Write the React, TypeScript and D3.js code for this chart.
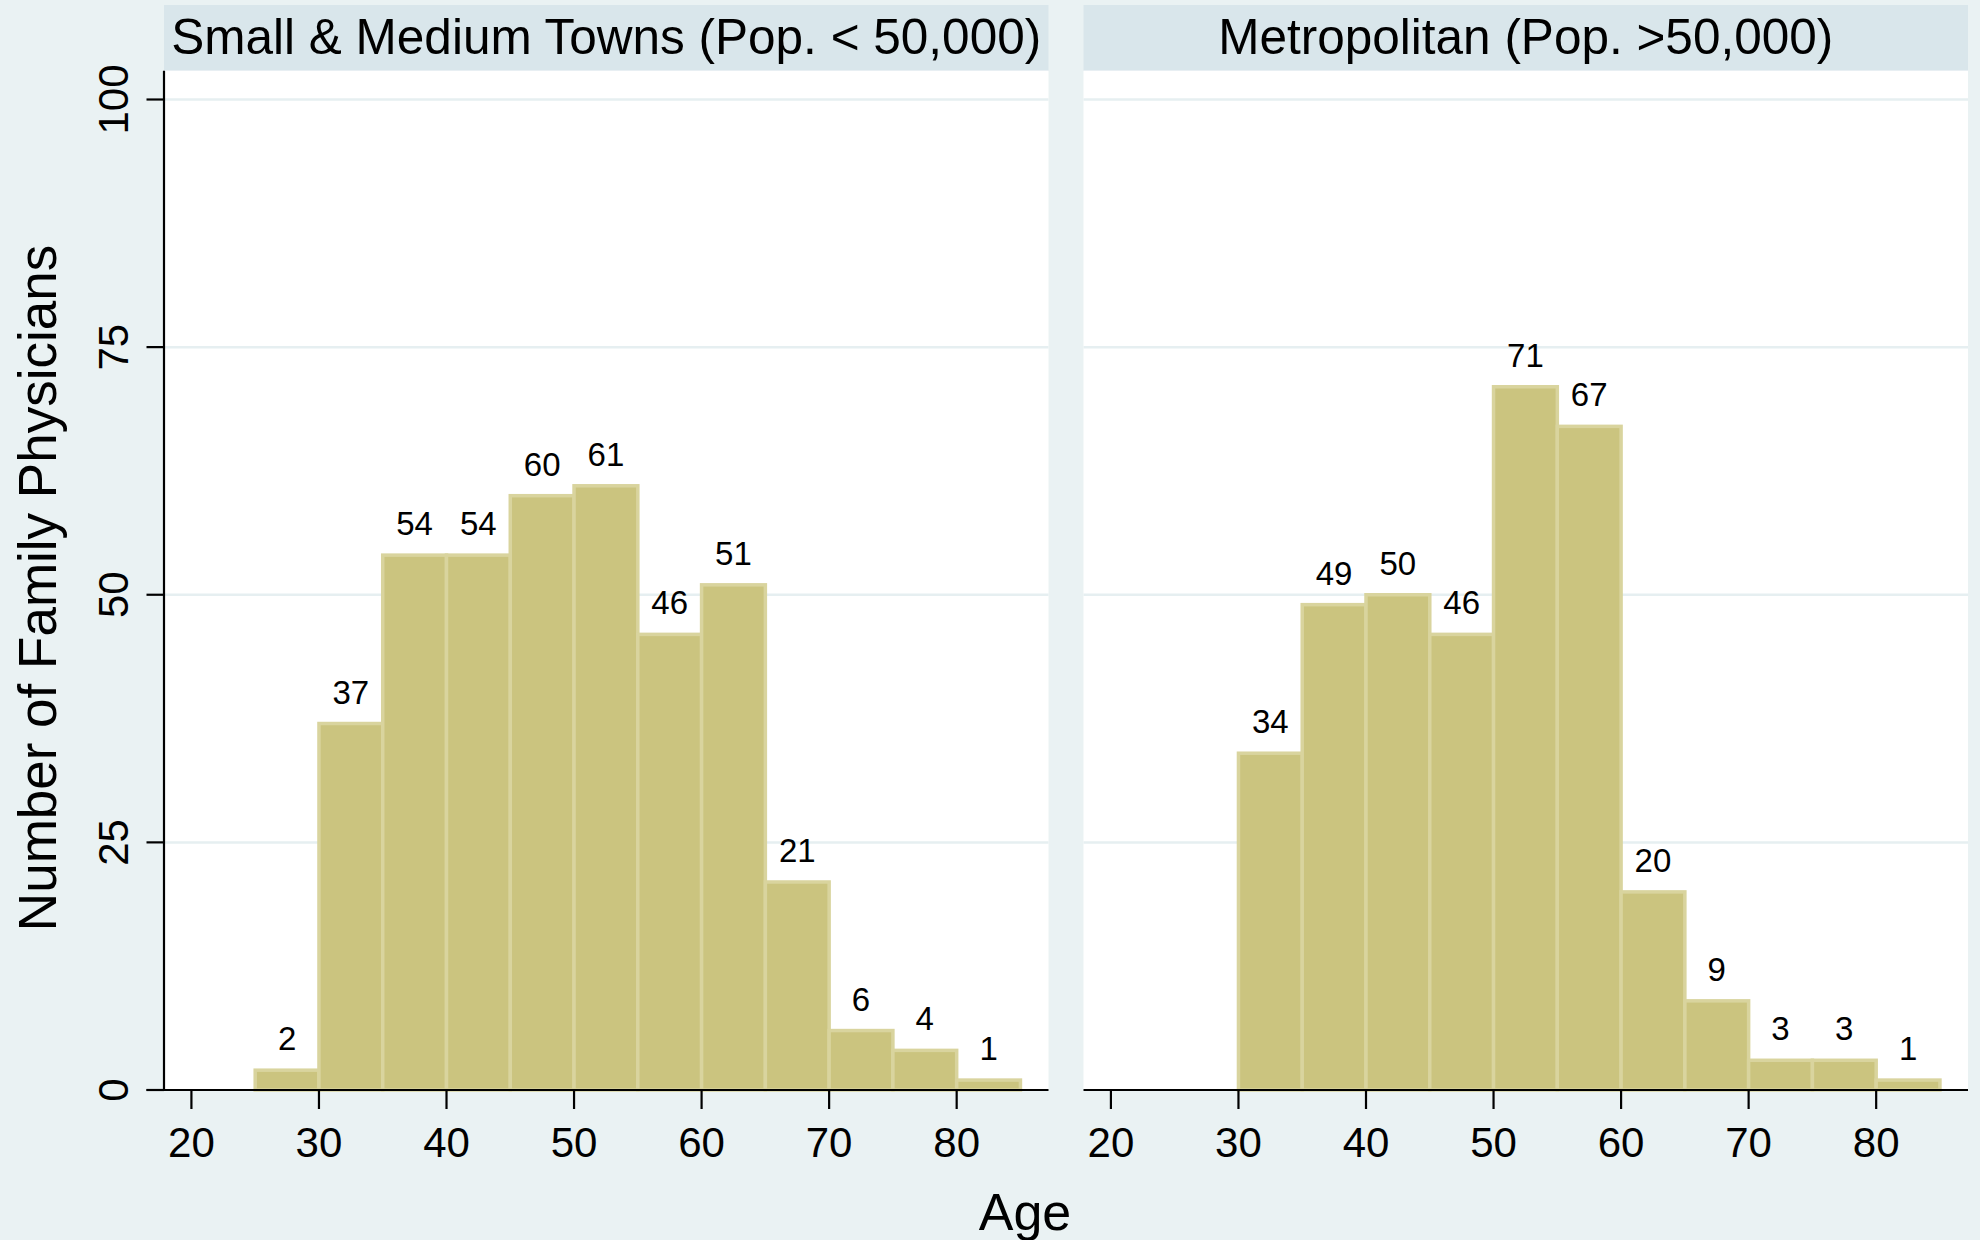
import React from 'react';
import * as d3 from 'd3';

const BIN_WIDTH = 5;
const smallBinStarts = [25, 30, 35, 40, 45, 50, 55, 60, 65, 70, 75, 80];
const smallCounts = [2, 37, 54, 54, 60, 61, 46, 51, 21, 6, 4, 1];
const metroBinStarts = [30, 35, 40, 45, 50, 55, 60, 65, 70, 75, 80];
const metroCounts = [34, 49, 50, 46, 71, 67, 20, 9, 3, 3, 1];
const xTicks = [20, 30, 40, 50, 60, 70, 80];
const yTicks = [0, 25, 50, 75, 100];
const panelTitles = ['Small & Medium Towns (Pop. < 50,000)', 'Metropolitan (Pop. >50,000)'];
const xTitle = 'Age';
const yTitle = 'Number of Family Physicians';

const W = 1980;
const H = 1240;
const BG = '#eaf2f3';
const HEADER = '#d9e6eb';
const FILL = '#cbc47f';
const OUTLINE = '#d9d49e';
const GRID = '#e6eff1';
const FONT = '"Liberation Sans", Arial, Helvetica, sans-serif';

const plotTop = 70.7;
const plotBottom = 1090;
const panelWidth = 884.5;
const panelLefts = [164, 1083.5];
const headerTop = 5;

const y = d3.scaleLinear().domain([0, 100]).range([plotBottom, 99.5]);

function Panel({ idx, starts, counts }: { idx: number; starts: number[]; counts: number[] }) {
  const left = panelLefts[idx];
  const x = d3.scaleLinear().domain([17.85, 87.2]).range([left, left + panelWidth]);
  return (
    <g>
      <rect x={left} y={headerTop} width={panelWidth} height={plotTop - headerTop} fill={HEADER} />
      <text x={left + panelWidth / 2} y={54} textAnchor="middle" fontSize={49.5} fontFamily={FONT} fill="#000">
        {panelTitles[idx]}
      </text>
      <rect x={left} y={plotTop} width={panelWidth} height={plotBottom - plotTop} fill="#fff" />
      {yTicks.filter(t => t > 0).map(t => (
        <line key={t} x1={left} x2={left + panelWidth} y1={y(t)} y2={y(t)} stroke={GRID} strokeWidth={2.5} />
      ))}
      {starts.map((s, i) => (
        <g key={s}>
          <rect
            x={x(s)}
            y={y(counts[i])}
            width={x(s + BIN_WIDTH) - x(s)}
            height={y(0) - y(counts[i])}
            fill={FILL}
            stroke={OUTLINE}
            strokeWidth={3.5}
          />
        </g>
      ))}
      {starts.map((s, i) => (
        <text
          key={'l' + s}
          x={x(s + BIN_WIDTH / 2)}
          y={y(counts[i]) - 20}
          textAnchor="middle"
          fontSize={33}
          fontFamily={FONT}
          fill="#000"
        >
          {counts[i]}
        </text>
      ))}
      <line x1={idx === 0 ? 146.5 : left} x2={left + panelWidth} y1={plotBottom} y2={plotBottom} stroke="#000" strokeWidth={2.2} />
      {xTicks.map(t => (
        <g key={'t' + t}>
          <line x1={x(t)} x2={x(t)} y1={plotBottom} y2={1109} stroke="#000" strokeWidth={2.2} />
          <text x={x(t)} y={1157} textAnchor="middle" fontSize={42} fontFamily={FONT} fill="#000">
            {t}
          </text>
        </g>
      ))}
      {idx === 0 && (
        <g>
          <line x1={left} x2={left} y1={plotTop} y2={plotBottom} stroke="#000" strokeWidth={2.2} />
          {yTicks.map(t => (
            <g key={'y' + t}>
              <line x1={146.5} x2={left} y1={y(t)} y2={y(t)} stroke="#000" strokeWidth={2.2} />
              <text
                transform={`translate(128, ${y(t)}) rotate(-90)`}
                textAnchor="middle"
                fontSize={42}
                fontFamily={FONT}
                fill="#000"
              >
                {t}
              </text>
            </g>
          ))}
        </g>
      )}
    </g>
  );
}

export default function App() {
  return (
    <svg
      width={W}
      height={H}
      viewBox={`0 0 ${W} ${H}`}
      style={{ position: 'absolute', left: 0, top: 0, display: 'block' }}
    >
      <rect x={0} y={0} width={W} height={H} fill={BG} />
      <Panel idx={0} starts={smallBinStarts} counts={smallCounts} />
      <Panel idx={1} starts={metroBinStarts} counts={metroCounts} />
      <text x={1025} y={1230} textAnchor="middle" fontSize={52} fontFamily={FONT} fill="#000">
        {xTitle}
      </text>
      <text
        transform="translate(56, 588) rotate(-90)"
        textAnchor="middle"
        fontSize={53}
        fontFamily={FONT}
        fill="#000"
      >
        {yTitle}
      </text>
    </svg>
  );
}
